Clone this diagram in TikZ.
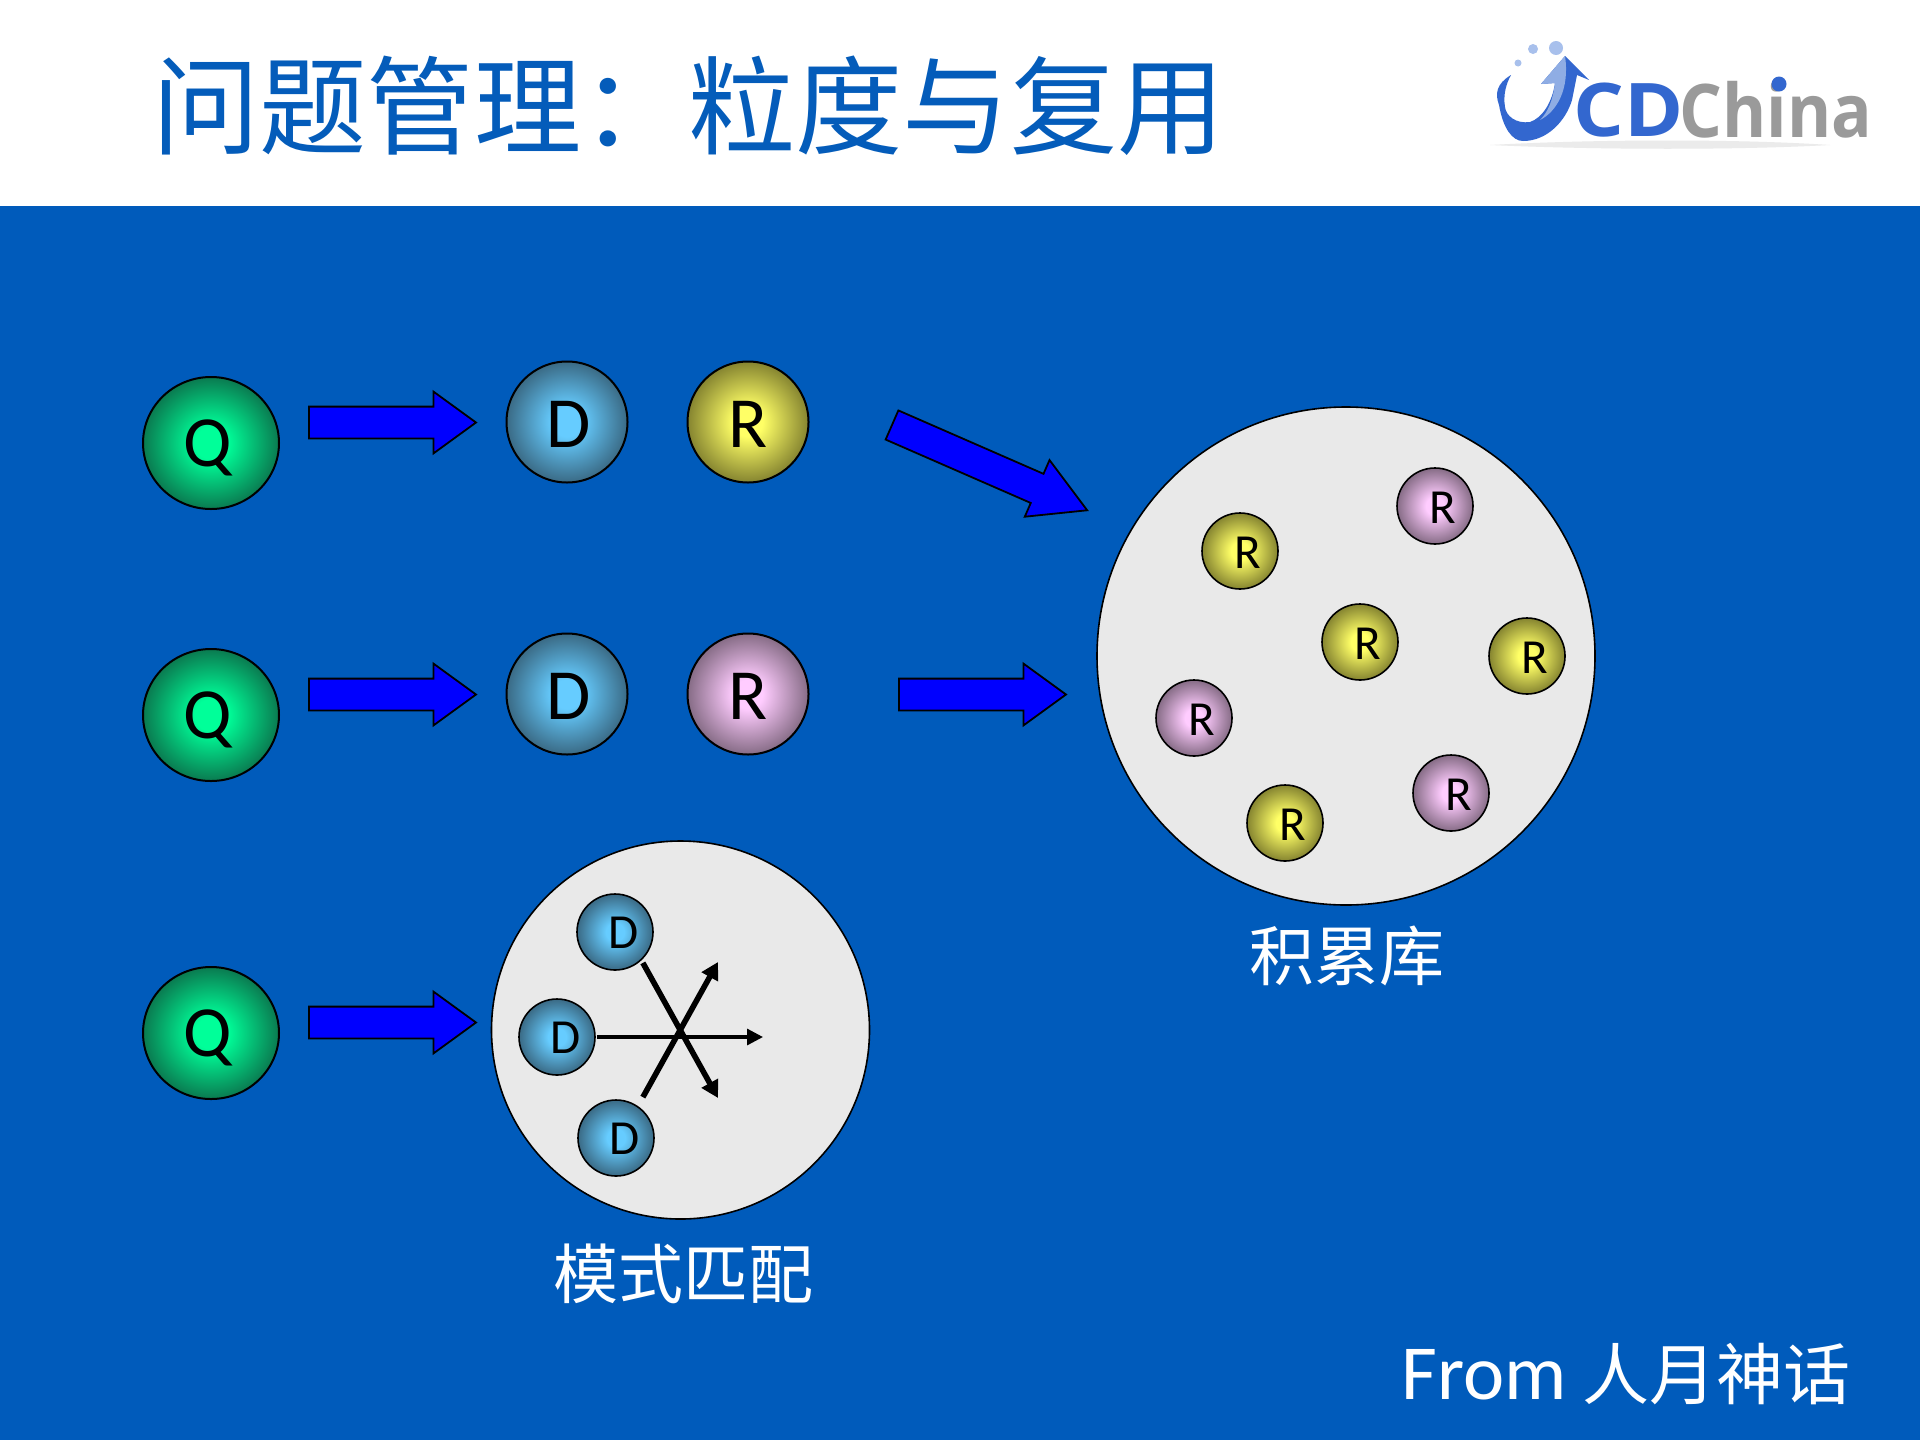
\documentclass[tikz,border=0pt]{standalone}
\usepackage{fontspec}
\usetikzlibrary{shapes.arrows,shapes.geometric,arrows.meta}
\setmainfont{Carlito}
\newfontfamily\cjk{Noto Sans CJK SC}
\newfontfamily\logofont{Open Sans}
\definecolor{bgblue}{HTML}{005BBB}
\definecolor{titleblue}{HTML}{045CBA}
\definecolor{arrowblue}{HTML}{0000FF}
\definecolor{panel}{HTML}{E9E9E9}
\definecolor{logoblue}{HTML}{3367CF}
\definecolor{logolight}{HTML}{A8C0EC}
\definecolor{logomid}{HTML}{8FADE4}
\definecolor{logogrey}{HTML}{9A9A9A}
\definecolor{qgreen}{HTML}{00FF99}
\definecolor{qdark}{HTML}{0A7A50}
\definecolor{dblue}{HTML}{66CCFF}
\definecolor{ddark}{HTML}{3A6A85}
\definecolor{ryellow}{HTML}{FFFF66}
\definecolor{rydark}{HTML}{858430}
\definecolor{rpink}{HTML}{FFCCFF}
\definecolor{rpdark}{HTML}{866C86}
\pgfdeclareradialshading{ballgreen}{\pgfpointorigin}{color(0bp)=(qgreen);color(6bp)=(qgreen);color(25bp)=(qdark);color(50bp)=(qdark)}
\pgfdeclareradialshading{ballblue}{\pgfpointorigin}{color(0bp)=(dblue);color(6bp)=(dblue);color(25bp)=(ddark);color(50bp)=(ddark)}
\pgfdeclareradialshading{ballyellow}{\pgfpointorigin}{color(0bp)=(ryellow);color(6bp)=(ryellow);color(25bp)=(rydark);color(50bp)=(rydark)}
\pgfdeclareradialshading{ballpink}{\pgfpointorigin}{color(0bp)=(rpink);color(6bp)=(rpink);color(25bp)=(rpdark);color(50bp)=(rpdark)}
\tikzset{
  x=0.5pt,y=-0.5pt,
  ball/.style={circle,draw=black,line width=1pt,inner sep=0pt,outer sep=0pt},
  big ball/.style={ball,minimum size=60.5pt},
  q ball/.style={ellipse,draw=black,line width=1pt,inner sep=0pt,outer sep=0pt,minimum width=68pt,minimum height=66pt,shading=ballgreen},
  small ball/.style={ball,minimum size=38pt,line width=0.8pt},
  blueball/.style={shading=ballblue},
  yellowball/.style={shading=ballyellow},
  pinkball/.style={shading=ballpink},
  blockarrow/.style={single arrow,anchor=tail,draw=black,fill=arrowblue,line width=0.9pt,inner sep=0pt,outer sep=0pt,
    minimum width=30pt,single arrow head extend=7.5pt,single arrow tip angle=72,single arrow head indent=0pt},
  pool/.style={circle,draw=black,fill=panel,line width=0.8pt,inner sep=0pt,outer sep=0pt},
  bigtext/.style={font=\fontsize{36}{36}\selectfont,text=black,inner sep=0pt},
  smalltext/.style={font=\fontsize{24.5}{24.5}\selectfont,text=black,inner sep=0pt},
  whitelabel/.style={text=white,font=\cjk\fontsize{32.5}{32.5}\selectfont,inner sep=0pt},
  thinflow/.style={draw=black,line width=1.6pt,-{Triangle[length=8pt,width=8pt]}},
  thickflow/.style={draw=black,line width=2.8pt,-{Triangle[length=8.5pt,width=9pt]}},
}
\newcommand{\shaftbox}{\rule{0pt}{15pt}}
\begin{document}
\begin{tikzpicture}
\useasboundingbox (0,0) rectangle (1920,1440);
\fill[white] (0,0) rectangle (1920,206);
\fill[bgblue] (0,206) rectangle (1920,1440);
% title
\node[anchor=west,inner sep=0pt,text=titleblue,font=\cjk\fontsize{53.6}{53.6}\selectfont] (title) at (152,106) {问题管理：粒度与复用};
% logo
\fill[black!8] (1490,145) .. controls (1600,139) and (1740,139) .. (1830,145) .. controls (1740,150) and (1600,150) .. (1490,145) -- cycle;
\fill[logolight] (1518,63) circle (3.5);
\fill[logolight] (1533,49) circle (5);
\fill[logolight] (1556,48) circle (7);
\fill[logoblue] (1511,75) .. controls (1496,84) and (1495,94) .. (1499,105)
  .. controls (1503,128) and (1512,141) .. (1523,141) .. controls (1548,141) and (1566,120) .. (1572,100)
  -- (1577,75) -- (1589,80) -- (1565,56) -- (1541,84) -- (1555,83)
  .. controls (1552,103) and (1542,118) .. (1530,122) .. controls (1516,124) and (1506,116) .. (1505,107)
  .. controls (1503,95) and (1506,84) .. (1511,75) -- cycle;
\fill[logomid] (1565,56) -- (1541,84) -- (1555,83) .. controls (1553,100) and (1548,112) .. (1540,120) .. controls (1556,112) and (1570,90) .. (1565,56) -- cycle;
\node[anchor=west,inner sep=0pt,text=logoblue,font=\logofont\bfseries\fontsize{37}{37}\selectfont,xscale=1.08] (logocd) at (1573,110) {CD};
\node[anchor=west,inner sep=0pt,text=logogrey,font=\logofont\bfseries\fontsize{37}{37}\selectfont,xscale=0.91] (logochina) at (1679,110) {China};
\fill[logoblue] (1779,84) circle (7.5);
% row balls
\node[q ball,label={[bigtext,xshift=-1.6pt,yshift=-2.4pt]center:Q}] (q1) at (211,443) {};
\node[q ball,label={[bigtext,xshift=-1.6pt,yshift=-2.4pt]center:Q}] (q2) at (211,715) {};
\node[q ball,label={[bigtext,xshift=-1.6pt,yshift=-2.4pt]center:Q}] (q3) at (211,1033) {};
\node[big ball,blueball,label={[bigtext,xshift=0.6pt,yshift=-1.2pt]center:D}] (d1) at (567,422) {};
\node[big ball,blueball,label={[bigtext,xshift=0.6pt,yshift=-1.2pt]center:D}] (d2) at (567,694) {};
\node[big ball,yellowball,label={[bigtext,yshift=-1.2pt]center:R}] (r1) at (748,422) {};
\node[big ball,pinkball,label={[bigtext,yshift=-1.2pt]center:R}] (r2) at (748,694) {};
% block arrows
\node[blockarrow,minimum height=83.5pt] (a1) at (309,422.5) {\shaftbox};
\node[blockarrow,minimum height=83.5pt] (a2) at (309,694.5) {\shaftbox};
\node[blockarrow,minimum height=83.5pt] (a3) at (309,1022.5) {\shaftbox};
\node[blockarrow,minimum height=83.5pt] (a4) at (899,694.5) {\shaftbox};
\node[blockarrow,minimum height=106.5pt,single arrow tip angle=59,rotate=-23.6] (a5) at (892,425) {\shaftbox};
% pools
\node[pool,minimum size=249pt] (lib) at (1346,656) {};
\node[pool,minimum size=189pt] (match) at (680.5,1030) {};
% library R balls
\foreach \nm/\cx/\cy/\st in {a/1240/551/yellowball,b/1435/506/pinkball,c/1360/642/yellowball,d/1527/656/yellowball,e/1194/718/pinkball,f/1451/793/pinkball,g/1285/823/yellowball}{
  \node[small ball,\st] (lr\nm) at (\cx,\cy) {};
  \node[smalltext] (lt\nm) at (\cx+8,\cy+2) {R};
}
% pattern D balls
\foreach \nm/\cx/\cy in {a/615/932,b/557/1037,c/616/1138}{
  \node[small ball,blueball] (pd\nm) at (\cx,\cy) {};
  \node[smalltext] (pt\nm) at (\cx+9,\cy+1) {D};
}
% flows
\coordinate (endmid) at (763,1037);
\coordinate (endup) at (718,962);
\coordinate (enddown) at (718,1098);
\draw[thinflow] (pdb.east)++(2,0) -- (endmid);
\draw[thickflow] (pdc.north east)++(0,-14) -- (endup);
\draw[thickflow] (pda.south east)++(1,4) -- (enddown);
% labels
\node[whitelabel] (liblabel) at (1347,956) {积累库};
\node[whitelabel] (matchlabel) at (683,1274) {模式匹配};
\node[anchor=base east,inner sep=0pt,text=white,font=\fontsize{39}{39}\selectfont] (from) at (1851,1399) {From\hspace{8pt}{\cjk\fontsize{33.5}{33.5}\selectfont 人月神话}};
\end{tikzpicture}
\end{document}
